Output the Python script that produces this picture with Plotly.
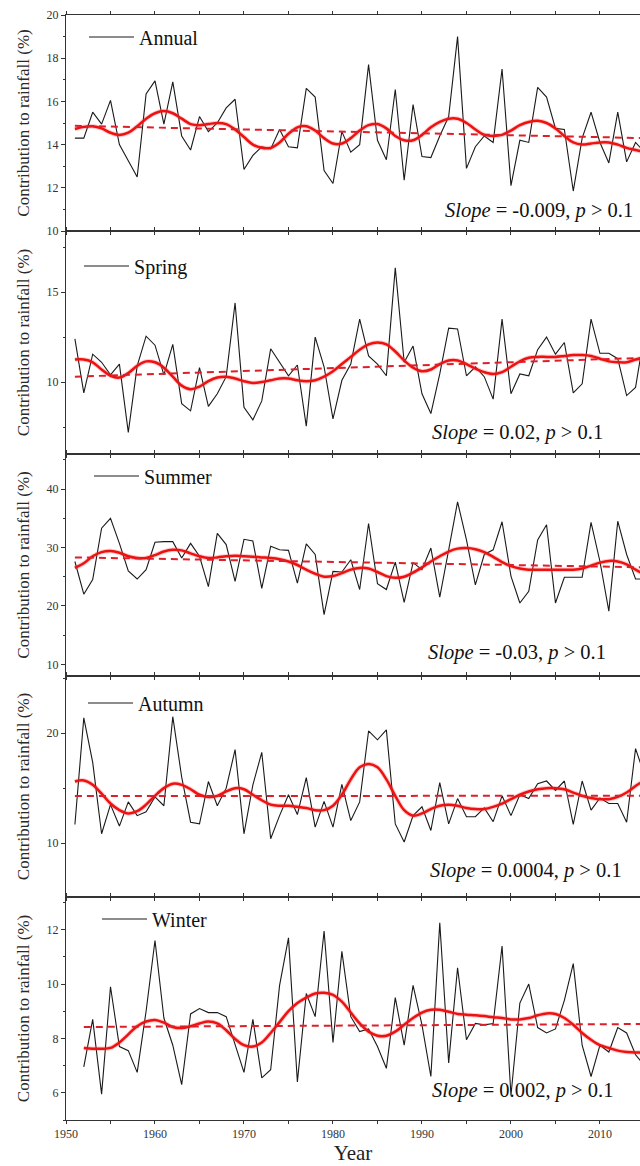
import plotly.graph_objects as go
from plotly.subplots import make_subplots

# ---------------- data ----------------
years = list(range(1951, 2016))
winter_years = list(range(1952, 2016))

annual = [14.3, 14.3, 15.5, 14.95, 16.05, 14.0, 13.25, 12.5, 16.35, 16.95,
          14.95, 16.9, 14.4, 13.75, 15.3, 14.6, 15.0, 15.7, 16.1, 12.85,
          13.5, 13.9, 13.8, 14.7, 13.9, 13.85, 16.6, 16.2, 12.8, 12.2,
          14.6, 13.65, 14.0, 17.7, 14.2, 13.3, 16.55, 12.35, 15.85, 13.45,
          13.4, 14.4, 15.3, 19.0, 12.9, 13.9, 14.4, 14.1, 17.5, 12.1,
          14.2, 14.1, 16.65, 16.2, 14.75, 14.7, 11.85, 14.3, 15.5, 14.1,
          13.15, 15.5, 13.2, 14.1, 13.65]

spring = [12.4, 9.4, 11.55, 11.1, 10.4, 11.0, 7.2, 10.9, 12.55, 12.05,
          10.4, 12.1, 8.8, 8.4, 10.8, 8.65, 9.35, 10.3, 14.4, 8.6,
          7.9, 8.95, 11.85, 11.1, 10.35, 10.95, 7.55, 12.5, 10.85, 7.95,
          10.1, 11.0, 13.5, 11.45, 11.0, 10.35, 16.35, 11.1, 12.0, 9.35,
          8.25, 10.45, 13.0, 12.95, 10.35, 10.85, 10.3, 9.05, 13.5, 9.35,
          10.45, 10.35, 11.8, 12.5, 11.55, 12.2, 9.4, 9.9, 13.5, 11.6,
          11.6, 11.3, 9.25, 9.7, 12.7]

summer = [27.6, 22.0, 24.5, 33.3, 35.0, 30.7, 26.0, 24.6, 26.2, 30.9,
          31.0, 31.0, 28.2, 30.7, 28.5, 23.3, 32.4, 30.5, 24.2, 31.4,
          31.1, 23.0, 30.2, 29.6, 29.5, 23.9, 30.6, 28.8, 18.5, 25.9,
          25.8, 27.9, 22.8, 34.1, 23.8, 22.8, 27.5, 20.6, 27.4, 26.2,
          29.9, 21.5, 29.6, 37.8, 31.3, 23.6, 28.8, 29.6, 34.4, 25.1,
          20.5, 22.5, 31.3, 33.9, 20.5, 24.9, 24.9, 24.9, 34.3, 27.6,
          19.1, 34.5, 28.8, 24.6, 24.6]

autumn = [11.7, 21.4, 17.35, 10.85, 13.5, 11.55, 13.75, 12.5, 12.85, 14.2,
          13.4, 21.5, 16.0, 11.9, 11.75, 15.6, 13.4, 15.0, 18.5, 10.85,
          15.3, 18.25, 10.4, 12.5, 14.4, 12.6, 15.95, 11.45, 13.8, 11.45,
          15.35, 12.05, 13.75, 20.2, 19.4, 20.3, 11.75, 10.1, 12.5, 13.3,
          11.15, 15.5, 11.75, 14.05, 12.4, 12.4, 13.2, 11.95, 14.3, 12.5,
          14.4, 14.05, 15.4, 15.65, 14.8, 15.65, 11.7, 15.65, 13.0, 14.1,
          13.6, 13.6, 11.9, 18.6, 16.2]

winter = [6.95, 8.7, 5.95, 9.9, 7.7, 7.55, 6.75, 9.0, 11.6,
          8.75, 7.75, 6.3, 8.9, 9.1, 8.95, 8.95, 8.8, 7.8, 6.75,
          8.7, 6.55, 6.85, 9.95, 11.7, 6.4, 9.65, 8.8, 11.95, 7.85,
          11.2, 8.8, 8.25, 8.35, 7.7, 6.9, 9.5, 7.75, 9.95, 8.5,
          6.6, 12.25, 7.1, 10.6, 7.95, 8.55, 8.5, 8.55, 11.4, 5.9,
          9.3, 10.0, 8.4, 8.2, 8.35, 9.4, 10.75, 7.75, 6.6, 7.75,
          7.5, 8.4, 8.2, 7.4, 7.0]

# smoothed curves
annual_smooth = [14.72, 14.82, 14.85, 14.75, 14.55, 14.45, 14.55, 14.85, 15.2, 15.45,
                 15.55, 15.45, 15.2, 14.95, 14.9, 14.95, 15.0, 14.95, 14.7, 14.35,
                 14.0, 13.85, 13.85, 14.1, 14.5, 14.8, 14.85, 14.65, 14.3, 14.05,
                 14.05, 14.3, 14.65, 14.9, 14.95, 14.75, 14.4, 14.2, 14.2, 14.45,
                 14.8, 15.05, 15.2, 15.2, 15.0, 14.7, 14.45, 14.4, 14.45, 14.65,
                 14.9, 15.05, 15.1, 15.0, 14.75, 14.4, 14.1, 14.0, 14.05, 14.1,
                 14.1, 14.0, 13.85, 13.75, 13.65]

spring_smooth = [11.25, 11.25, 11.1, 10.7, 10.35, 10.25, 10.5, 10.9, 11.15, 11.1,
                 10.8, 10.3, 9.8, 9.6, 9.75, 10.05, 10.25, 10.3, 10.2, 10.05,
                 9.95, 10.0, 10.1, 10.2, 10.2, 10.1, 10.05, 10.1, 10.3, 10.6,
                 11.0, 11.4, 11.8, 12.1, 12.2, 12.1, 11.7, 11.2, 10.8, 10.6,
                 10.7, 11.0, 11.2, 11.2, 11.0, 10.75, 10.55, 10.45, 10.55, 10.85,
                 11.15, 11.35, 11.4, 11.4, 11.4, 11.45, 11.5, 11.5, 11.45, 11.3,
                 11.15, 11.1, 11.1, 11.25, 11.35]

summer_smooth = [26.5, 27.3, 28.5, 29.2, 29.4, 29.1, 28.5, 28.2, 28.2, 28.7,
                 29.3, 29.6, 29.5, 29.0, 28.5, 28.2, 28.3, 28.5, 28.6, 28.5,
                 28.4, 28.3, 28.2, 28.0, 27.6, 27.0, 26.2, 25.5, 25.0, 25.1,
                 25.6, 26.2, 26.5, 26.4, 25.8, 25.1, 24.8, 25.0, 25.7, 26.6,
                 27.6, 28.5, 29.3, 29.8, 29.9, 29.7, 29.2, 28.4, 27.5, 26.8,
                 26.4, 26.2, 26.2, 26.2, 26.2, 26.2, 26.2, 26.4, 26.9, 27.4,
                 27.7, 27.6, 27.1, 26.2, 25.4]

autumn_smooth = [15.6, 15.7, 15.3, 14.5, 13.6, 13.0, 12.7, 12.9, 13.5, 14.3,
                 15.0, 15.4, 15.3, 14.9, 14.4, 14.2, 14.3, 14.7, 15.0, 14.9,
                 14.4, 13.9, 13.5, 13.4, 13.4, 13.3, 13.2, 13.0, 13.0, 13.4,
                 14.4, 15.8, 16.9, 17.2, 16.9, 15.8, 14.3, 13.0, 12.5, 12.7,
                 13.1, 13.4, 13.5, 13.4, 13.2, 13.1, 13.1, 13.3, 13.6, 14.0,
                 14.4, 14.7, 14.9, 15.0, 15.0, 14.9, 14.6, 14.3, 14.1, 14.0,
                 14.0, 14.2, 14.6, 15.2, 15.7]

winter_smooth = [7.65, 7.62, 7.62, 7.65, 7.85, 8.15, 8.45, 8.62, 8.68,
                 8.58, 8.42, 8.38, 8.45, 8.55, 8.62, 8.55, 8.3, 7.98, 7.75,
                 7.7, 7.85, 8.2, 8.6, 9.0, 9.3, 9.5, 9.65, 9.68, 9.6,
                 9.35, 8.95, 8.55, 8.25, 8.1, 8.1, 8.25, 8.5, 8.75, 8.95,
                 9.05, 9.05, 8.98, 8.9, 8.87, 8.85, 8.82, 8.78, 8.75, 8.7,
                 8.7, 8.75, 8.85, 8.92, 8.9, 8.75, 8.5, 8.2, 7.95, 7.75,
                 7.65, 7.55, 7.5, 7.48, 7.48]

# linear trend end points (first year, last year)
annual_trend = [14.87, 14.30]
spring_trend = [10.30, 11.35]
summer_trend = [28.3, 26.6]
autumn_trend = [14.28, 14.31]
winter_trend = [8.42, 8.53]

season_names = ["Annual", "Spring", "Summer", "Autumn", "Winter"]
slope_texts = ["-0.009", "0.02", "-0.03", "0.0004", "0.002"]
y_ranges = [[10, 20], [6, 18.4], [8, 46], [5.1, 25.2], [5, 13.2]]
y_dticks = [2, 5, 10, 10, 2]

series = [
    (years, annual, annual_smooth, annual_trend),
    (years, spring, spring_smooth, spring_trend),
    (years, summer, summer_smooth, summer_trend),
    (years, autumn, autumn_smooth, autumn_trend),
    (winter_years, winter, winter_smooth, winter_trend),
]

# ---------------- layout geometry ----------------
W, H = 640, 1166
ML, MR, MT, MB = 66, 0, 15, 46
plot_h = H - MT - MB
panel_px = [(15, 231), (231, 454), (454, 676), (676, 897), (897, 1120)]


def py2paper(py):
    return (H - MB - py) / plot_h


def px2paper(px):
    return (px - ML) / (W - ML - MR)


legend_px = [(89, 37), (84, 266), (94, 476), (88, 703), (102, 919)]
slope_px = [(443, 210), (430, 432), (426, 652), (428, 870), (430, 1090)]

SERIF = "Liberation Serif"

fig = make_subplots(rows=5, cols=1, shared_xaxes=True, vertical_spacing=0)

for i, (xs, vals, sm, tr) in enumerate(series):
    row = i + 1
    leg = "legend" if i == 0 else f"legend{i + 1}"
    fig.add_trace(go.Scatter(x=xs, y=vals, mode="lines", name=season_names[i],
                             line=dict(color="#1a1a1a", width=1.1),
                             legend=leg, showlegend=True), row=row, col=1)
    fig.add_trace(go.Scatter(x=xs, y=sm, mode="lines",
                             line=dict(color="rgba(255,70,70,0.28)", width=4.5, shape="spline"),
                             showlegend=False, hoverinfo="skip"), row=row, col=1)
    fig.add_trace(go.Scatter(x=xs, y=sm, mode="lines",
                             line=dict(color="#ee1111", width=2.5, shape="spline"),
                             showlegend=False), row=row, col=1)
    fig.add_trace(go.Scatter(x=[xs[0], xs[-1]], y=tr, mode="lines",
                             line=dict(color="#dd1f2a", width=2, dash="7px,5px"),
                             showlegend=False), row=row, col=1)

    top, bot = panel_px[i]
    dom = [py2paper(bot), py2paper(top)]
    yk = "yaxis" if i == 0 else f"yaxis{i + 1}"
    xk = "xaxis" if i == 0 else f"xaxis{i + 1}"
    fig.layout[yk].update(
        domain=dom, range=y_ranges[i], dtick=y_dticks[i], tick0=0,
        ticks="outside", ticklen=4, tickwidth=1, tickcolor="#333",
        minor=dict(ticks="outside", ticklen=2.5, dtick=y_dticks[i] / 2, tickcolor="#333"),
        showline=True, linecolor="#333", linewidth=1, mirror=False,
        showgrid=False, zeroline=False,
        tickfont=dict(family=SERIF, size=12, color="#333"),
        title=dict(text="Contribution to rainfall (%)", standoff=12,
                   font=dict(family=SERIF, size=17, color="#2a2a2a")),
    )
    fig.layout[xk].update(
        range=[1950, 2014.5], dtick=10, tick0=1950,
        ticks="outside", ticklen=3, tickwidth=1, tickcolor="#333",
        minor=dict(ticks="outside", ticklen=3, dtick=5, tickcolor="#333"),
        showline=True, linecolor="#333", linewidth=1, mirror="allticks",
        showgrid=False, zeroline=False,
        showticklabels=(i == 4),
        tickfont=dict(family=SERIF, size=12, color="#333"),
    )

    lx, ly = legend_px[i]
    fig.layout[leg] = dict(
        x=px2paper(lx) - 0.0087, y=py2paper(ly), xanchor="left", yanchor="middle",
        bgcolor="rgba(0,0,0,0)", borderwidth=0,
        font=dict(family=SERIF, size=20, color="#111"),
        itemwidth=45, tracegroupgap=0,
    )

    sx, sy = slope_px[i]
    fig.add_annotation(
        x=px2paper(sx), y=py2paper(sy), xref="paper", yref="paper",
        xanchor="left", yanchor="middle", showarrow=False,
        text=f"<i>Slope</i> = {slope_texts[i]}, <i>p</i> &gt; 0.1",
        font=dict(family=SERIF, size=20.5, color="#111"),
    )

fig.layout.xaxis5.title = dict(text="Year", standoff=4,
                               font=dict(family=SERIF, size=21, color="#222"))

fig.update_layout(
    width=W, height=H,
    margin=dict(l=ML, r=MR, t=MT, b=MB, autoexpand=False),
    paper_bgcolor="white", plot_bgcolor="white",
    showlegend=True,
)

fig.write_html("out.html")
